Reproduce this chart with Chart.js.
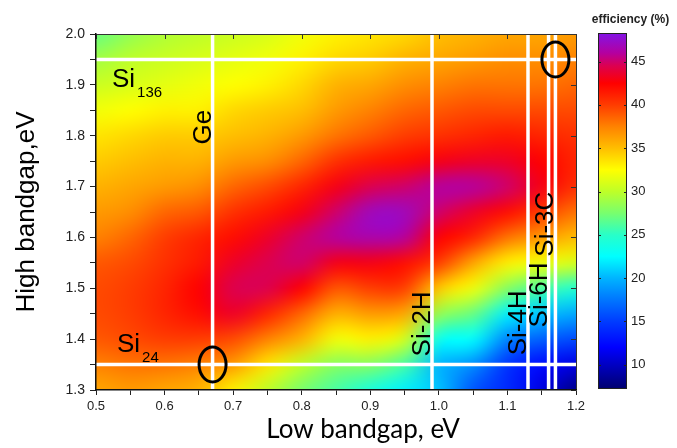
<!DOCTYPE html>
<html>
<head>
<meta charset="utf-8">
<script src="https://cdn.jsdelivr.net/npm/chart.js@4.4.1/dist/chart.umd.min.js"></script>
<style>
  html, body { margin: 0; padding: 0; background: #fff; }
  #wrap { width: 677px; height: 448px; }
</style>
</head>
<body>
<div id="wrap"><canvas id="chart" width="677" height="448"></canvas></div>
<script>
// grid of the contour map
const lowGaps = [0.50, 0.55, 0.60, 0.65, 0.70, 0.75, 0.80, 0.85, 0.90, 0.95, 1.00, 1.05, 1.10, 1.15, 1.20];
const highGaps = [1.30, 1.35, 1.40, 1.45, 1.50, 1.55, 1.60, 1.65, 1.70, 1.75, 1.80, 1.85, 1.90, 1.95, 2.00];

// efficiency (%) along each high-bandgap row, columns follow lowGaps
const eff130 = [36, 36.5, 36, 35.5, 33, 30, 27.5, 26, 24, 22, 20.5, 16, 14, 11, 8];
const eff135 = [37.5, 38, 38, 37.5, 36.5, 33.5, 30, 28, 28, 26, 20, 18.5, 14.5, 12.5, 11];
const eff140 = [39, 39.5, 40, 40, 39.5, 37.5, 35.5, 32, 33, 31, 23, 22.5, 18, 16.5, 15.5];
const eff145 = [39.5, 40, 41, 42, 43.5, 41, 38.5, 35.5, 36.5, 36, 28.5, 27, 22, 20.5, 19.5];
const eff150 = [39.5, 40, 41, 42.5, 44.5, 44.5, 42.5, 39, 40, 40, 34.5, 32, 28, 26, 24.5];
const eff155 = [39, 39.5, 40.5, 41.5, 43.5, 44.5, 45, 43, 43, 42, 40, 36, 33, 32, 31];
const eff160 = [37.5, 38.5, 40, 41, 42, 43.5, 45, 46, 46.5, 46, 42.5, 41, 38, 36.5, 35];
const eff165 = [36.5, 37, 38.5, 39, 40.5, 41.5, 43, 45, 47, 47, 45, 43.5, 42, 40, 38];
const eff170 = [35.5, 36, 36.5, 37, 38.5, 39.5, 41, 43, 44.5, 45, 46, 46, 45, 43, 40.5];
const eff175 = [34.5, 35, 35.5, 35.5, 36.5, 37, 38.5, 40.5, 41.5, 42, 43, 43.5, 43.5, 42.5, 41];
const eff180 = [33.5, 34, 34.5, 34.5, 35, 35.5, 36.5, 38, 39, 40, 40.5, 41, 41.5, 41, 40.5];
const eff185 = [32, 32.5, 33, 33, 34, 34.5, 35, 36.5, 37.5, 38.5, 39, 39.5, 39.5, 39.5, 39.5];
const eff190 = [30.5, 31, 31.5, 32, 32.5, 33, 34, 35.5, 36, 37, 37.5, 38, 38, 38, 38.5];
const eff195 = [29, 30, 30.5, 31, 31.5, 32, 33, 34, 34.5, 35.5, 36, 36.5, 37, 37, 37.5];
const eff200 = [27, 28.5, 29.5, 30, 30.5, 31, 32, 33, 33.5, 34, 35, 35.5, 36, 36, 36.5];
const efficiency = [eff130, eff135, eff140, eff145, eff150, eff155, eff160, eff165,
                    eff170, eff175, eff180, eff185, eff190, eff195, eff200];

// materials marked on the map
const lowMaterials = ['Ge', 'Si-2H', 'Si-4H', 'Si-6H', 'Si-3C'];
const lowMaterialGaps = [0.67, 0.99, 1.13, 1.16, 1.17];
const highMaterials = ['Si136', 'Si24'];
const highMaterialGaps = [1.95, 1.35];
const circledPairs = [{ x: 0.67, y: 1.35 }, { x: 1.17, y: 1.95 }];

// colour scale
const colorRange = [7.2, 48.3];
const colorTicks = [10, 15, 20, 25, 30, 35, 40, 45];

const stops = [
  [7.2, [0, 0, 110]], [9, [0, 0, 165]], [12, [0, 0, 255]], [15, [0, 60, 255]],
  [18, [0, 130, 255]], [20, [0, 180, 255]], [22.5, [0, 255, 255]], [25, [40, 255, 200]],
  [27.5, [120, 255, 110]], [30, [190, 255, 40]], [32.5, [255, 255, 0]], [35, [255, 190, 0]],
  [37.5, [255, 130, 0]], [40, [255, 60, 0]], [42.5, [255, 0, 0]], [44.5, [220, 0, 80]],
  [46, [180, 0, 160]], [48.3, [130, 20, 230]]
];

function colorFor(v) {
  if (v <= stops[0][0]) return stops[0][1];
  for (let i = 1; i < stops.length; i++) {
    if (v <= stops[i][0]) {
      const [v0, c0] = stops[i - 1], [v1, c1] = stops[i];
      const t = (v - v0) / (v1 - v0);
      return c0.map((c, k) => Math.round(c + (c1[k] - c) * t));
    }
  }
  return stops[stops.length - 1][1];
}

const heatmap = {
  id: 'heatmap',
  beforeDatasetsDraw(chart) {
    const { ctx, chartArea: a, scales: { x, y } } = chart;
    const nx = lowGaps.length, ny = highGaps.length;
    const off = document.createElement('canvas');
    off.width = nx; off.height = ny;
    const octx = off.getContext('2d');
    const img = octx.createImageData(nx, ny);
    for (let j = 0; j < ny; j++) {
      const row = efficiency[ny - 1 - j];
      for (let i = 0; i < nx; i++) {
        const c = colorFor(row[i]);
        const p = (j * nx + i) * 4;
        img.data[p] = c[0]; img.data[p + 1] = c[1]; img.data[p + 2] = c[2]; img.data[p + 3] = 255;
      }
    }
    octx.putImageData(img, 0, 0);
    const hx = (lowGaps[1] - lowGaps[0]) / 2, hy = (highGaps[1] - highGaps[0]) / 2;
    const l = x.getPixelForValue(lowGaps[0] - hx), r = x.getPixelForValue(lowGaps[nx - 1] + hx);
    const t = y.getPixelForValue(highGaps[ny - 1] + hy), b = y.getPixelForValue(highGaps[0] - hy);
    ctx.save();
    ctx.beginPath();
    ctx.rect(a.left, a.top, a.width, a.height);
    ctx.clip();
    ctx.imageSmoothingEnabled = true;
    ctx.imageSmoothingQuality = 'high';
    ctx.drawImage(off, l, t, r - l, b - t);
    ctx.restore();
  }
};

// rotated material names sit left of their line, centred at these high-gap values
const lowLabelAt = [1.817, 1.43, 1.432, 1.487, 1.626];

const overlay = {
  id: 'overlay',
  afterDatasetsDraw(chart) {
    const { ctx, chartArea: a, scales: { x, y } } = chart;
    ctx.save();

    // frame with inward ticks on top and right
    ctx.strokeStyle = '#333';
    ctx.lineWidth = 1;
    ctx.beginPath();
    ctx.moveTo(a.left, a.top + 0.5); ctx.lineTo(a.right + 0.5, a.top + 0.5); ctx.lineTo(a.right + 0.5, a.bottom);
    x.ticks.forEach(tk => {
      if (Math.abs(tk.value * 10 - Math.round(tk.value * 10)) > 1e-6) return;
      const px = Math.round(x.getPixelForValue(tk.value)) + 0.5;
      ctx.moveTo(px, a.top); ctx.lineTo(px, a.top + 5);
    });
    y.ticks.forEach(tk => {
      if (Math.abs(tk.value * 10 - Math.round(tk.value * 10)) > 1e-6) return;
      const py = Math.round(y.getPixelForValue(tk.value)) + 0.5;
      ctx.moveTo(a.right, py); ctx.lineTo(a.right - 5, py);
    });
    ctx.stroke();

    // material labels
    ctx.fillStyle = '#000';
    ctx.font = '26px "Liberation Sans", Arial, sans-serif';
    ctx.textAlign = 'center';
    ctx.textBaseline = 'alphabetic';
    lowMaterials.forEach((name, i) => {
      const px = x.getPixelForValue(lowMaterialGaps[i]) - 2;
      const py = y.getPixelForValue(lowLabelAt[i]);
      ctx.save();
      ctx.translate(px, py);
      ctx.rotate(-Math.PI / 2);
      ctx.fillText(name, 0, 0);
      ctx.restore();
    });

    const subLabel = (main, sub, px, py) => {
      ctx.textAlign = 'left';
      ctx.font = '26px "Liberation Sans", Arial, sans-serif';
      ctx.fillText(main, px, py);
      const w = ctx.measureText(main).width;
      ctx.font = '15px "Liberation Sans", Arial, sans-serif';
      ctx.fillText(sub, px + w + 2, py + 10.5);
    };
    highMaterials.forEach((name, i) => {
      const py = y.getPixelForValue(highMaterialGaps[i]);
      const px = i === 0 ? a.left + 16 : a.left + 21;
      const dy = i === 0 ? 27.5 : -13;
      subLabel(name.slice(0, 2), name.slice(2), px, py + dy);
    });

    // circled crossings
    ctx.strokeStyle = '#000';
    ctx.lineWidth = 3;
    circledPairs.forEach(p => {
      ctx.beginPath();
      ctx.ellipse(x.getPixelForValue(p.x), y.getPixelForValue(p.y), 13.5, 17.5, 0, 0, Math.PI * 2);
      ctx.stroke();
    });

    // axis titles
    ctx.fillStyle = '#000';
    ctx.textAlign = 'center';
    ctx.font = '26px Lato, "Open Sans", sans-serif';
    ctx.fillText('Low bandgap, eV', 363, 438);
    ctx.save();
    ctx.translate(34, (a.top + a.bottom) / 2);
    ctx.rotate(-Math.PI / 2);
    ctx.font = '26px "Liberation Sans", Arial, sans-serif';
    ctx.fillText('High bandgap,eV', 0, 0);
    ctx.restore();

    // colour bar
    const cbL = 598, cbR = 627, cbT = a.top - 1, cbB = a.bottom - 1;
    const cy = v => cbB - (v - colorRange[0]) / (colorRange[1] - colorRange[0]) * (cbB - cbT);
    const grad = ctx.createLinearGradient(0, cbB, 0, cbT);
    stops.forEach(([v, c]) => {
      const f = Math.min(1, Math.max(0, (v - colorRange[0]) / (colorRange[1] - colorRange[0])));
      grad.addColorStop(f, `rgb(${c[0]},${c[1]},${c[2]})`);
    });
    ctx.fillStyle = grad;
    ctx.fillRect(cbL, cbT, cbR - cbL, cbB - cbT);
    ctx.strokeStyle = '#222';
    ctx.lineWidth = 1;
    ctx.strokeRect(cbL + 0.5, cbT + 0.5, cbR - cbL - 1, cbB - cbT - 1);
    ctx.beginPath();
    colorTicks.forEach(v => {
      const py = Math.round(cy(v)) + 0.5;
      ctx.moveTo(cbL, py); ctx.lineTo(cbL + 3, py);
      ctx.moveTo(cbR, py); ctx.lineTo(cbR - 3, py);
    });
    ctx.stroke();
    ctx.fillStyle = '#222';
    ctx.font = '13px "Liberation Sans", Arial, sans-serif';
    ctx.textAlign = 'left';
    ctx.textBaseline = 'middle';
    colorTicks.forEach(v => ctx.fillText(String(v), cbR + 4, cy(v)));
    ctx.font = 'bold 12px "Liberation Sans", Arial, sans-serif';
    ctx.textAlign = 'center';
    ctx.textBaseline = 'alphabetic';
    ctx.fillText('efficiency (%)', (cbL + cbR) / 2 + 18, 23);

    ctx.restore();
  }
};

const lineSets = [];
lowMaterialGaps.forEach((g, i) => lineSets.push({
  label: lowMaterials[i],
  data: [{ x: g, y: highGaps[0] }, { x: g, y: highGaps[highGaps.length - 1] }]
}));
highMaterialGaps.forEach((g, i) => lineSets.push({
  label: highMaterials[i],
  data: [{ x: lowGaps[0], y: g }, { x: lowGaps[lowGaps.length - 1], y: g }]
}));
lineSets.forEach(ds => Object.assign(ds, {
  showLine: true, borderColor: '#fff', borderWidth: 3.5, pointRadius: 0, clip: 0
}));

const isMajor = v => Math.abs(v * 10 - Math.round(v * 10)) < 1e-6;

new Chart(document.getElementById('chart'), {
  type: 'scatter',
  data: { datasets: lineSets },
  plugins: [heatmap, overlay],
  options: {
    responsive: false,
    animation: false,
    devicePixelRatio: 1,
    layout: { padding: { top: 34, right: 101, left: 0, bottom: 0 } },
    plugins: { legend: { display: false }, tooltip: { enabled: false } },
    scales: {
      x: {
        type: 'linear', min: 0.5, max: 1.2,
        afterFit: s => { s.height = 58; },
        ticks: {
          stepSize: 0.05, autoSkip: false, maxRotation: 0, padding: 4, color: '#222',
          font: { family: '"Liberation Sans", Arial, sans-serif', size: 13 },
          callback: v => isMajor(v) ? v.toFixed(1) : ''
        },
        grid: { drawOnChartArea: false, drawTicks: true, tickLength: 5, color: '#222', z: 1 },
        border: { color: '#111', width: 1.5, z: 1 }
      },
      y: {
        type: 'linear', min: 1.3, max: 2.0,
        afterFit: s => { s.width = 96; },
        ticks: {
          stepSize: 0.05, autoSkip: false, padding: 5, color: '#222',
          font: { family: '"Liberation Sans", Arial, sans-serif', size: 14 },
          callback: v => isMajor(v) ? v.toFixed(1) : ''
        },
        grid: { drawOnChartArea: false, drawTicks: true, tickLength: 6, color: '#222', z: 1 },
        border: { color: '#111', width: 1.5, z: 1 }
      }
    }
  }
});
</script>
</body>
</html>
